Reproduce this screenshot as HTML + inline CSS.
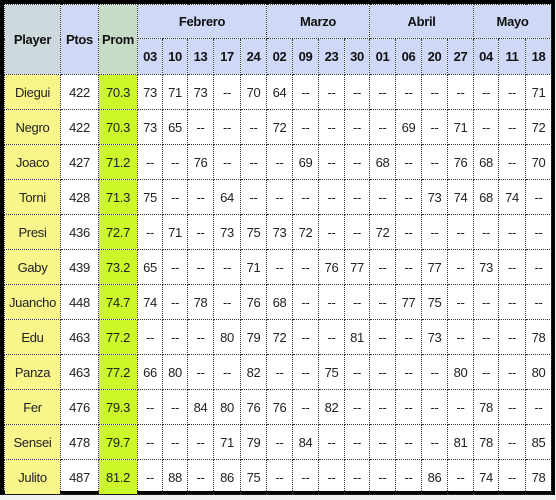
<!DOCTYPE html>
<html><head><meta charset="utf-8"><style>
body{margin:0;background:#f0f0f0;width:556px;height:500px;overflow:hidden;font-family:"Liberation Sans",sans-serif}
#wrap{position:absolute;left:0;top:0;width:547px;height:487px;border:4px solid #000;background:#fff}
table{border-collapse:collapse;table-layout:fixed;width:547px;font-size:13px;letter-spacing:-0.3px}
td,th{border:1px dotted #333;text-align:center;padding:0;overflow:hidden;white-space:nowrap}
th{font-weight:bold;background:#cfd9f7;color:#111}
th.pl{background:#cdd9dc}th.pr{background:#c6dcc6}
td{color:#222;height:34px}
td.pl{background:#f8f68a}td.pr{background:#ccf82a}
</style></head><body>
<div id="wrap">
<table id="t">
<colgroup><col style="width:56px"><col style="width:38px"><col style="width:39px"><col style="width:25px"><col style="width:25px"><col style="width:26px"><col style="width:27px"><col style="width:26px"><col style="width:26px"><col style="width:26px"><col style="width:26px"><col style="width:25px"><col style="width:26px"><col style="width:26px"><col style="width:26px"><col style="width:26px"><col style="width:25px"><col style="width:27px"><col style="width:26px"></colgroup>
<thead>
<tr style="height:34px"><th rowspan="2" class="pl">Player</th><th rowspan="2">Ptos</th><th rowspan="2" class="pr">Prom</th>
<th colspan="5">Febrero</th><th colspan="4">Marzo</th><th colspan="4">Abril</th><th colspan="3">Mayo</th></tr>
<tr id="days" style="height:36px"></tr>
</thead><tbody id="b"></tbody></table></div>
<script>
const days=["03","10","13","17","24","02","09","23","30","01","06","20","27","04","11","18"];
const players=["Diegui","Negro","Joaco","Torni","Presi","Gaby","Juancho","Edu","Panza","Fer","Sensei","Julito"];
const ptos=[422,422,427,428,436,439,448,463,463,476,478,487];
const prom=["70.3","70.3","71.2","71.3","72.7","73.2","74.7","77.2","77.2","79.3","79.7","81.2"];
const scores=[
"73 71 73 -- 70 64 -- -- -- -- -- -- -- -- -- 71",
"73 65 -- -- -- 72 -- -- -- -- 69 -- 71 -- -- 72",
"-- -- 76 -- -- -- 69 -- -- 68 -- -- 76 68 -- 70",
"75 -- -- 64 -- -- -- -- -- -- -- 73 74 68 74 --",
"-- 71 -- 73 75 73 72 -- -- 72 -- -- -- -- -- --",
"65 -- -- -- 71 -- -- 76 77 -- -- 77 -- 73 -- --",
"74 -- 78 -- 76 68 -- -- -- -- 77 75 -- -- -- --",
"-- -- -- 80 79 72 -- -- 81 -- -- 73 -- -- -- 78",
"66 80 -- -- 82 -- -- 75 -- -- -- -- 80 -- -- 80",
"-- -- 84 80 76 76 -- 82 -- -- -- -- -- 78 -- --",
"-- -- -- 71 79 -- 84 -- -- -- -- -- 81 78 -- 85",
"-- 88 -- 86 75 -- -- -- -- -- -- 86 -- 74 -- 78"];
const dr=document.getElementById('days');
days.forEach(d=>{const th=document.createElement('th');th.textContent=d;


dr.appendChild(th);});
const b=document.getElementById('b');
players.forEach((p,i)=>{const tr=document.createElement('tr');


const cells=[[p,'pl','player-name'],[ptos[i],'','ptos-cell'],[prom[i],'pr','prom-cell']];
scores[i].split(' ').forEach(s=>cells.push([s,'','score-cell']));
cells.forEach(c=>{const td=document.createElement('td');td.textContent=c[0];if(c[1])td.className=c[1];


tr.appendChild(td);});
b.appendChild(tr);});
</script></body></html>
